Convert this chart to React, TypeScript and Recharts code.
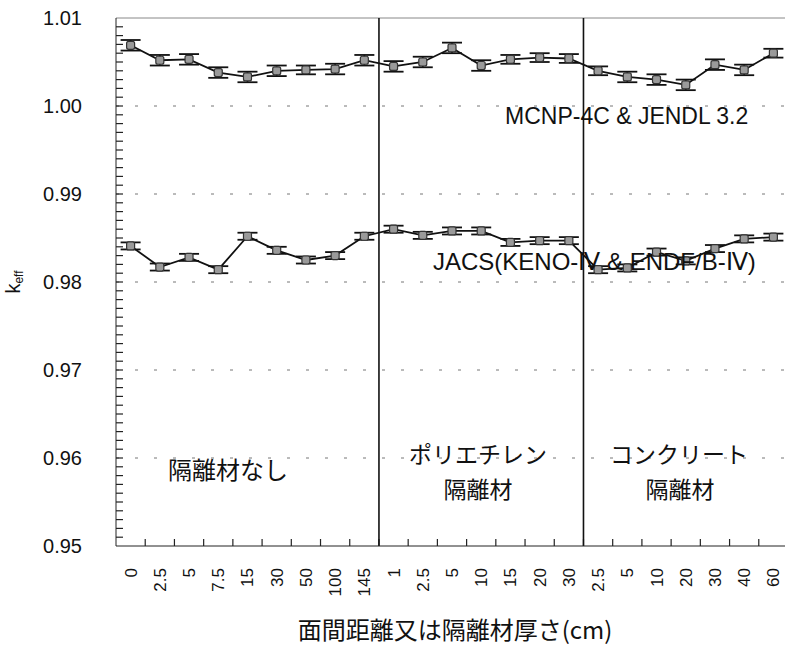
import React from 'react';
import { LineChart, Line, XAxis, YAxis, ReferenceLine, ErrorBar } from 'recharts';

// categories: 隔離材なし (9), ポリエチレン (7), コンクリート (7)
const labels = [
  '0', '2.5', '5', '7.5', '15', '30', '50', '100', '145',
  '1', '2.5', '5', '10', '15', '20', '30',
  '2.5', '5', '10', '20', '30', '40', '60',
];

const mcnp = [
  1.0069, 1.0052, 1.0053, 1.0038, 1.0033, 1.0040, 1.0041, 1.0042, 1.0052,
  1.0045, 1.0050, 1.0066, 1.0046, 1.0053, 1.0055, 1.0054,
  1.0040, 1.0033, 1.0030, 1.0024, 1.0047, 1.0041, 1.0060,
];
const mcnpErr = [
  0.0006, 0.0006, 0.0006, 0.0006, 0.0006, 0.0006, 0.0005, 0.0006, 0.0006,
  0.0006, 0.0006, 0.0006, 0.0006, 0.0005, 0.0005, 0.0005,
  0.0005, 0.0006, 0.0006, 0.0006, 0.0006, 0.0006, 0.0005,
];

const jacs = [
  0.9841, 0.9817, 0.9828, 0.9814, 0.9852, 0.9836, 0.9825, 0.9830, 0.9852,
  0.9860, 0.9853, 0.9858, 0.9858, 0.9845, 0.9847, 0.9847,
  0.9814, 0.9816, 0.9834, 0.9824, 0.9838, 0.9849, 0.9851,
];
const jacsErr = [
  0.0004, 0.0004, 0.0004, 0.0004, 0.0004, 0.0004, 0.0004, 0.0004, 0.0004,
  0.0004, 0.0004, 0.0004, 0.0004, 0.0004, 0.0004, 0.0004,
  0.0004, 0.0004, 0.0004, 0.0004, 0.0004, 0.0004, 0.0004,
];

const yMajor = [0.95, 0.96, 0.97, 0.98, 0.99, 1.0, 1.01];
const yGrid = [0.96, 0.97, 0.98, 0.99, 1.0];
const groupBreaks = [8.5, 15.5];

const data = labels.map((label, i) => ({
  i,
  label,
  mcnp: mcnp[i],
  mcnpErr: mcnpErr[i],
  jacs: jacs[i],
  jacsErr: jacsErr[i],
}));

const W = 800;
const H = 645;
const LEFT = 116;
const RIGHT = 12;
const TOP = 18;
const XAXIS_H = 60;
const BOTTOM = 39;

const X0 = -0.5;
const X1 = labels.length - 0.5;
const Y0 = 0.95;
const Y1 = 1.01;
// ~7px tick length in data units
const TICK_DX = (7 * (X1 - X0)) / (W - LEFT - RIGHT);
const TICK_DY = (7 * (Y1 - Y0)) / (H - TOP - BOTTOM - XAXIS_H);

const LATIN = '"Liberation Sans", Arial, sans-serif';
const JP = '"Noto Sans CJK JP", "Liberation Sans", sans-serif';

// minor ticks every 0.001
const yMinor = Array.from({ length: 59 }, (_, k) => Math.round((0.951 + k * 0.001) * 1000) / 1000);
const xTicks = labels.map((_, i) => i);
// tick marks sit between categories
const xEdges = labels.slice(1).map((_, i) => i + 0.5);

const YTick = ({ x, y, payload }: any) => (
  <text x={x - 34} y={y} dy={7} textAnchor="end" fontSize={20} fontFamily={LATIN} fill="#111">
    {Number(payload.value).toFixed(2)}
  </text>
);

const XTick = ({ x, y, payload }: any) => (
  <text
    transform={`translate(${x + 6}, ${y + 22}) rotate(-90)`}
    textAnchor="end"
    fontSize={17}
    fontFamily={LATIN}
    fill="#111"
  >
    {labels[payload.value]}
  </text>
);

const Marker = ({ cx, cy }: any) => {
  if (cx == null || cy == null) return null;
  return <rect x={cx - 4} y={cy - 4} width={8} height={8} rx={2} fill="#9a9a9a" stroke="#333" strokeWidth={1.2} />;
};

const txt = (extra: React.CSSProperties): React.CSSProperties => ({
  position: 'absolute',
  whiteSpace: 'nowrap',
  color: '#111',
  lineHeight: 1,
  ...extra,
});

export default function App() {
  return (
    <div
      style={{
        position: 'fixed',
        left: 0,
        top: 0,
        width: 785,
        height: 645,
        overflow: 'hidden',
        background: '#fff',
      }}
    >
      <LineChart width={W} height={H} data={data} margin={{ top: TOP, right: RIGHT, bottom: BOTTOM, left: 0 }}>
        <XAxis
          dataKey="i"
          type="number"
          domain={[X0, X1]}
          ticks={xTicks}
          interval={0}
          height={XAXIS_H}
          tickSize={0}
          tickMargin={0}
          tickLine={false}
          axisLine={{ stroke: '#222' }}
          tick={<XTick />}
        />
        <YAxis
          type="number"
          domain={[Y0, Y1]}
          ticks={yMajor}
          interval={0}
          width={LEFT}
          tickSize={0}
          tickMargin={0}
          tickLine={false}
          axisLine={{ stroke: '#222' }}
          tick={<YTick />}
        />
        {yGrid.map((v) => (
          <ReferenceLine key={v} y={v} stroke="#777" strokeDasharray="3 16" />
        ))}
        <ReferenceLine y={Y1} stroke="#888" ifOverflow="visible" />
        {yMinor.map((v) => (
          <ReferenceLine
            key={`m${v}`}
            segment={[
              { x: X0, y: v },
              { x: X0 + TICK_DX, y: v },
            ]}
            stroke="#222"
            strokeWidth={1.2}
            ifOverflow="visible"
          />
        ))}
        {xEdges.map((e) => (
          <ReferenceLine
            key={`e${e}`}
            segment={[
              { x: e, y: Y0 },
              { x: e, y: Y0 + TICK_DY },
            ]}
            stroke="#222"
            strokeWidth={1.2}
            ifOverflow="visible"
          />
        ))}
        {groupBreaks.map((b) => (
          <ReferenceLine key={b} x={b} stroke="#111" strokeWidth={1.6} />
        ))}
        <Line dataKey="mcnp" stroke="#111" strokeWidth={1.8} dot={<Marker />} isAnimationActive={false}>
          <ErrorBar dataKey="mcnpErr" direction="y" width={10} stroke="#111" strokeWidth={1.8} />
        </Line>
        <Line dataKey="jacs" stroke="#111" strokeWidth={1.8} dot={<Marker />} isAnimationActive={false}>
          <ErrorBar dataKey="jacsErr" direction="y" width={10} stroke="#111" strokeWidth={1.8} />
        </Line>
      </LineChart>

      <div style={txt({ left: 505, top: 105, fontSize: 23, fontFamily: LATIN })}>MCNP-4C &amp; JENDL 3.2</div>
      <div style={txt({ left: 433, top: 250, fontSize: 24, fontFamily: LATIN })}>JACS(KENO-Ⅳ &amp; ENDF/B-Ⅳ)</div>

      <div style={txt({ left: 228, top: 457, fontSize: 24, fontFamily: JP, transform: 'translateX(-50%)' })}>隔離材なし</div>
      <div style={txt({ left: 478, top: 442, fontSize: 23, fontFamily: JP, transform: 'translateX(-50%)' })}>ポリエチレン</div>
      <div style={txt({ left: 478, top: 477, fontSize: 23, fontFamily: JP, transform: 'translateX(-50%)' })}>隔離材</div>
      <div style={txt({ left: 679, top: 442, fontSize: 23, fontFamily: JP, transform: 'translateX(-50%)' })}>コンクリート</div>
      <div style={txt({ left: 680, top: 477, fontSize: 23, fontFamily: JP, transform: 'translateX(-50%)' })}>隔離材</div>

      <div style={txt({ left: 455, top: 617, fontSize: 24, fontFamily: JP, transform: 'translateX(-50%)' })}>
        面間距離又は隔離材厚さ(cm)
      </div>

      <div
        style={txt({
          left: 14,
          top: 282,
          fontSize: 20,
          fontFamily: LATIN,
          transform: 'translate(-50%, -50%) rotate(-90deg)',
        })}
      >
        k<sub style={{ fontSize: 12, verticalAlign: '-0.2em' }}>eff</sub>
      </div>
    </div>
  );
}
